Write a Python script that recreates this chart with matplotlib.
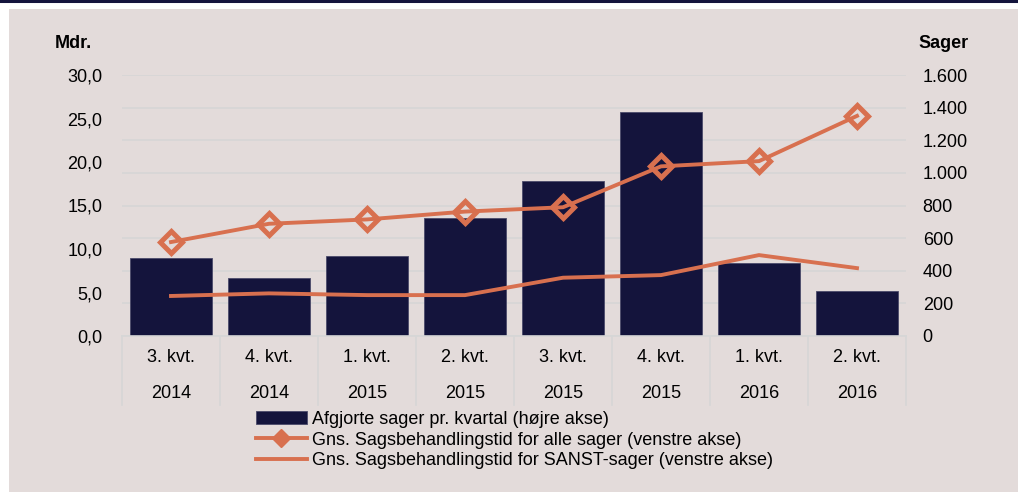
import matplotlib.pyplot as plt
from matplotlib.patches import Rectangle
from matplotlib.lines import Line2D
from matplotlib.ticker import FuncFormatter
import numpy as np

plt.rcParams['font.family'] = ['Liberation Sans', 'DejaVu Sans']

quarters = ['3. kvt.', '4. kvt.', '1. kvt.', '2. kvt.', '3. kvt.', '4. kvt.', '1. kvt.', '2. kvt.']
years = ['2014', '2014', '2015', '2015', '2015', '2015', '2016', '2016']

# afgjorte sager (right axis)
afgjorte = [480, 357, 491, 725, 949, 1376, 450, 277]
# months (left axis)
alle_sager = [10.8, 12.9, 13.4, 14.3, 14.8, 19.5, 20.1, 25.3]
sanst_sager = [4.6, 4.9, 4.7, 4.7, 6.7, 7.0, 9.3, 7.8]

BG = '#e3dbda'
NAVY = '#14143c'
ORANGE = '#d8704f'
GRID = '#d6d6d6'
FS = 13

fig = plt.figure(figsize=(10.18, 4.93), dpi=100)
fig.patch.set_facecolor('white')
fig.patches.append(Rectangle((9 / 1018, 1 / 493), 1, 1 - 10 / 493, transform=fig.transFigure,
                             facecolor=BG, edgecolor='none', zorder=-10))
fig.add_artist(Line2D([0, 1], [1 - 1.2 / 493, 1 - 1.2 / 493], transform=fig.transFigure,
                      color=NAVY, linewidth=2.2))

ax = fig.add_axes([122 / 1018, 157 / 493, 784 / 1018, 261 / 493])
ax2 = ax.twinx()
ax.set_zorder(ax2.get_zorder() + 1)
ax.patch.set_visible(False)
ax2.patch.set_visible(False)

x = np.arange(len(quarters))

# bars on right axis
bars = ax2.bar(x, afgjorte, width=0.83, color=NAVY, edgecolor='#4a4a6a', linewidth=0.6, zorder=2)
ax2.set_ylim(0, 1600)
ax2.set_yticks(np.arange(0, 1601, 200))
ax2.yaxis.set_major_formatter(FuncFormatter(lambda v, p: f'{int(v):,}'.replace(',', '.')))
ax2.grid(axis='y', color=GRID, linewidth=1.2, zorder=0)
ax2.set_axisbelow(True)

# lines on left axis
l1, = ax.plot(x, alle_sager, color=ORANGE, linewidth=2.8, marker='D', markersize=11,
              markerfacecolor='none', markeredgecolor=ORANGE, markeredgewidth=3.6, zorder=3)
l2, = ax.plot(x, sanst_sager, color=ORANGE, linewidth=2.8, zorder=3)
ax.set_ylim(0, 30)
ax.set_yticks(np.arange(0, 31, 5))
ax.yaxis.set_major_formatter(FuncFormatter(lambda v, p: f'{v:.1f}'.replace('.', ',')))
ax.set_xlim(-0.5, len(quarters) - 0.5)

for a in (ax, ax2):
    for s in a.spines.values():
        s.set_visible(False)
    a.tick_params(axis='both', length=0, labelsize=FS, colors='black')
ax.tick_params(axis='y', pad=14)
ax2.tick_params(axis='y', pad=12)
ax.set_xticks([])
ax.spines['bottom'].set_visible(True)
ax.spines['bottom'].set_color(GRID)
ax.spines['bottom'].set_linewidth(1.2)

# two-level category labels
trans = ax.get_xaxis_transform()
for i in range(len(quarters)):
    ax.text(x[i], -22 / 261, quarters[i], transform=trans, ha='center', va='center', fontsize=FS)
    ax.text(x[i], -57 / 261, years[i], transform=trans, ha='center', va='center', fontsize=FS)
for b in np.arange(-0.5, len(quarters), 1.0):
    ax.add_line(Line2D([b, b], [0, -69 / 261], transform=trans, color=GRID,
                       linewidth=1.2, clip_on=False))

fig.text(55 / 1018, 1 - 43 / 493, 'Mdr.', fontsize=FS, fontweight='bold', va='center', ha='left')
fig.text(918 / 1018, 1 - 43 / 493, 'Sager', fontsize=FS, fontweight='bold', va='center', ha='left')

labels = ['Afgjorte sager pr. kvartal (højre akse)',
          'Gns. Sagsbehandlingstid for alle sager (venstre akse)',
          'Gns. Sagsbehandlingstid for SANST-sager (venstre akse)']
leg_l1 = Line2D([0], [0], color=ORANGE, linewidth=2.8, marker='D', markersize=9,
                markerfacecolor=ORANGE, markeredgecolor=ORANGE)
leg_l2 = Line2D([0], [0], color=ORANGE, linewidth=2.8)
fig.legend([bars, leg_l1, leg_l2], labels, loc='upper left',
           bbox_to_anchor=(247 / 1018, 1 - 402 / 493), frameon=False, fontsize=FS,
           handlelength=2.8, handletextpad=0.3, labelspacing=0.2, borderpad=0)

fig.savefig('out.png', dpi=100, facecolor=fig.get_facecolor())
